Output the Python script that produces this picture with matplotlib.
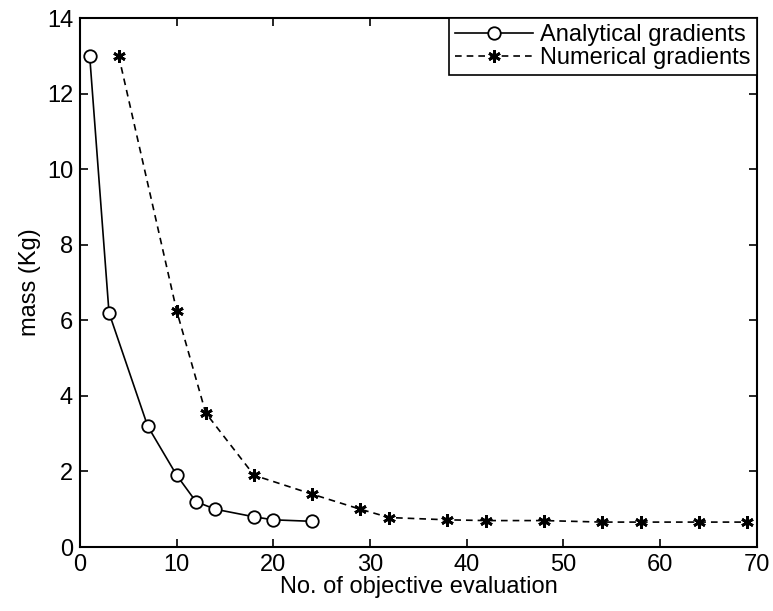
import matplotlib
matplotlib.use('Agg')
import matplotlib.pyplot as plt

# Analytical gradients
x_analytic = [1, 3, 7, 10, 12, 14, 18, 20, 24]
y_analytic = [13.0, 6.2, 3.2, 1.9, 1.2, 1.0, 0.8, 0.72, 0.68]

# Numerical gradients
x_numeric = [4, 10, 13, 18, 24, 29, 32, 38, 42, 48, 54, 58, 64, 69]
y_numeric = [13.0, 6.25, 3.55, 1.9, 1.4, 1.0, 0.78, 0.72, 0.7, 0.7, 0.66, 0.66, 0.66, 0.66]

plt.rcParams['font.family'] = ['Liberation Sans', 'DejaVu Sans']

fig = plt.figure(figsize=(7.73, 6.11), dpi=100)
ax = fig.add_axes([0.1035, 0.1047, 0.8755, 0.8658])

ax.plot(x_analytic, y_analytic, color='black', linestyle='-', linewidth=1.2,
        marker='o', markersize=9, markerfacecolor='white', markeredgecolor='black',
        markeredgewidth=1.3, label='Analytical gradients')
ax.plot(x_numeric, y_numeric, color='black', linestyle=(0, (4, 3)), linewidth=1.2,
        marker=(6, 2, 0), markersize=9, markeredgecolor='black',
        markeredgewidth=2.0, label='Numerical gradients')

ax.set_xlim(0, 70)
ax.set_ylim(0, 14)
ax.set_xticks(range(0, 71, 10))
ax.set_yticks(range(0, 15, 2))
ax.tick_params(direction='in', top=True, right=True, labelsize=17, length=6,
               width=1.2, pad=5)
for s in ax.spines.values():
    s.set_linewidth(1.5)

ax.set_xlabel('No. of objective evaluation', fontsize=17, labelpad=0)
ax.set_ylabel('mass (Kg)', fontsize=17, labelpad=4)

leg = ax.legend(loc='upper right', fontsize=17, fancybox=False, framealpha=1,
                edgecolor='black', borderaxespad=0.0, handlelength=3.3,
                handletextpad=0.3, borderpad=0.25, labelspacing=0.05)
leg.get_frame().set_linewidth(1.2)

fig.savefig('out.png', dpi=100)
